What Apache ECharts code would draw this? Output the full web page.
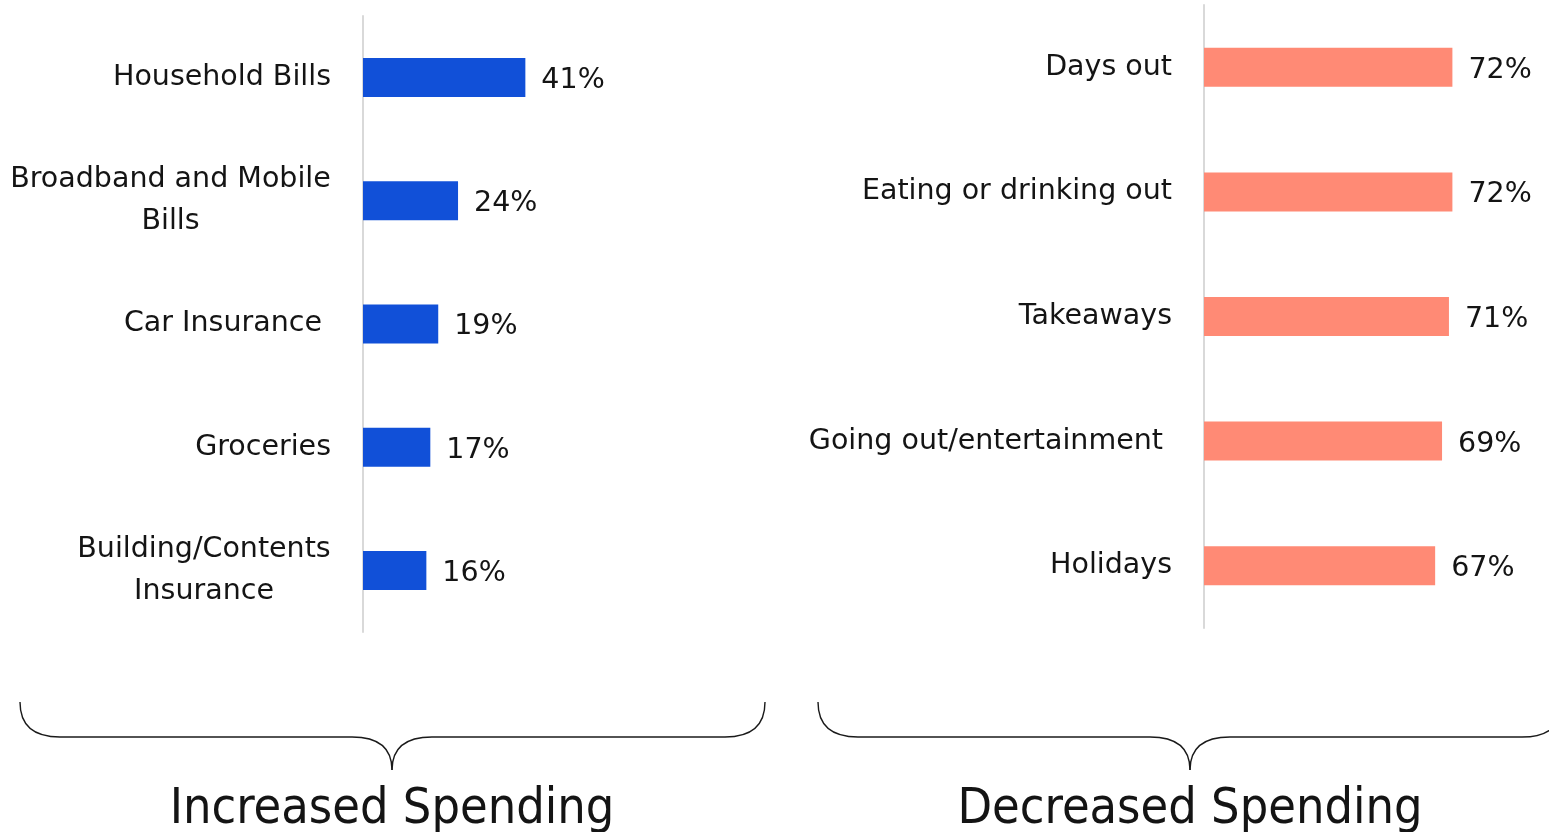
<!DOCTYPE html>
<html>
<head>
<meta charset="utf-8">
<script src="https://cdn.jsdelivr.net/npm/echarts@6/dist/echarts.min.js"></script>
<style>
  html, body { margin: 0; padding: 0; background: #ffffff; }
  #chart { width: 1549px; height: 832px; }
</style>
</head>
<body>
<div id="chart"></div>
<script>
// Spending categories and shares of respondents (%)
const increasedCategories = ['Household Bills', 'Broadband and Mobile\nBills', 'Car Insurance ', 'Groceries', 'Building/Contents\nInsurance'];
const increasedValues = [41, 24, 19, 17, 16];
const decreasedCategories = ['Days out', 'Eating or drinking out', 'Takeaways', 'Going out/entertainment ', 'Holidays'];
const decreasedValues = [72, 72, 71, 69, 67];
const groupTitles = ['Increased Spending', 'Decreased Spending'];

const LABEL_FONT = '"DejaVu Sans"';
const LABEL_SIZE = 28.5;
const TITLE_FONT = '"Liberation Sans Narrow", "DejaVu Sans Condensed", sans-serif';
const TEXT_COLOR = '#141414';

// Measure text so wrapped labels can be centred line-by-line inside a right-aligned block
const measureCtx = document.createElement('canvas').getContext('2d');
function buildLabel(categories, prefix) {
  const rich = {};
  categories.forEach((c, i) => {
    const lines = c.split('\n');
    if (lines.length > 1) {
      const w = Math.max(...lines.map(l => measureCtx.measureText(l).width));
      rich[prefix + i] = { width: Math.ceil(w), align: 'center', fontSize: LABEL_SIZE, fontFamily: LABEL_FONT, color: TEXT_COLOR, lineHeight: 42 };
    }
  });
  return {
    rich,
    formatter: (value, index) => {
      const lines = value.split('\n');
      if (lines.length === 1) return value;
      return lines.map(l => '{' + prefix + index + '|' + l + '}').join('\n');
    }
  };
}

function categoryAxis(gridIndex, data, lbl) {
  return {
    type: 'category', gridIndex, data, inverse: true,
    axisLine: { show: true, lineStyle: { color: '#d9d9d9', width: 2 } },
    axisTick: { show: false },
    splitLine: { show: false },
    axisLabel: {
      margin: 32, fontSize: LABEL_SIZE, fontFamily: LABEL_FONT, color: TEXT_COLOR,
      align: 'right', lineHeight: 42,
      formatter: lbl.formatter, rich: lbl.rich
    }
  };
}
function valueAxis(gridIndex) {
  return {
    type: 'value', gridIndex, min: 0, max: 100,
    axisLine: { show: false }, axisTick: { show: false },
    axisLabel: { show: false }, splitLine: { show: false }
  };
}
function barSeries(idx, values, color) {
  return {
    type: 'bar', xAxisIndex: idx, yAxisIndex: idx, data: values,
    barWidth: 39,
    itemStyle: { color },
    label: {
      show: true, position: 'right', distance: 16, offset: [0, 3],
      formatter: '{c}%', fontSize: LABEL_SIZE, fontFamily: LABEL_FONT, color: TEXT_COLOR
    },
    silent: true
  };
}

// Curly brace built from quadratic curves and straight segments
function brace(x0, x1, cx, yTop, yMid, yTip, r) {
  const style = { stroke: '#1a1a1a', lineWidth: 1.4, fill: null };
  return [
    { type: 'bezierCurve', shape: { x1: x0, y1: yTop, cpx1: x0, cpy1: yMid, x2: x0 + r, y2: yMid }, style },
    { type: 'line', shape: { x1: x0 + r, y1: yMid, x2: cx - r, y2: yMid }, style },
    { type: 'bezierCurve', shape: { x1: cx - r, y1: yMid, cpx1: cx, cpy1: yMid, x2: cx, y2: yTip }, style },
    { type: 'bezierCurve', shape: { x1: cx, y1: yTip, cpx1: cx, cpy1: yMid, x2: cx + r, y2: yMid }, style },
    { type: 'line', shape: { x1: cx + r, y1: yMid, x2: x1 - r, y2: yMid }, style },
    { type: 'bezierCurve', shape: { x1: x1 - r, y1: yMid, cpx1: x1, cpy1: yMid, x2: x1, y2: yTop }, style }
  ];
}
function groupTitle(text, x) {
  return {
    type: 'text', x, y: 810,
    style: { text, fontSize: 50, fontFamily: TITLE_FONT, fill: TEXT_COLOR, align: 'center', verticalAlign: 'middle' }
  };
}

function render() {
  measureCtx.font = LABEL_SIZE + 'px ' + LABEL_FONT;
  const incLabel = buildLabel(increasedCategories, 'a');
  const decLabel = buildLabel(decreasedCategories, 'b');
  const chart = echarts.init(document.getElementById('chart'), null, { renderer: 'canvas' });
  chart.setOption({
    animation: false,
    backgroundColor: '#ffffff',
    grid: [
      { left: 363, top: 16, width: 396, height: 616 },
      { left: 1204, top: 5, width: 350, height: 623 }
    ],
    xAxis: [valueAxis(0), valueAxis(1)],
    yAxis: [categoryAxis(0, increasedCategories, incLabel), categoryAxis(1, decreasedCategories, decLabel)],
    series: [
      barSeries(0, increasedValues, '#1150d8'),
      barSeries(1, decreasedValues, '#ff8a75')
    ],
    graphic: [
      ...brace(20, 765, 392, 702, 737, 770, 40),
      ...brace(818, 1562, 1190, 702, 737, 770, 40),
      groupTitle(groupTitles[0], 392),
      groupTitle(groupTitles[1], 1190)
    ]
  });
}
Promise.all([
  document.fonts.load(LABEL_SIZE + 'px ' + LABEL_FONT),
  document.fonts.load('50px ' + TITLE_FONT)
]).then(render, render);
</script>
</body>
</html>
